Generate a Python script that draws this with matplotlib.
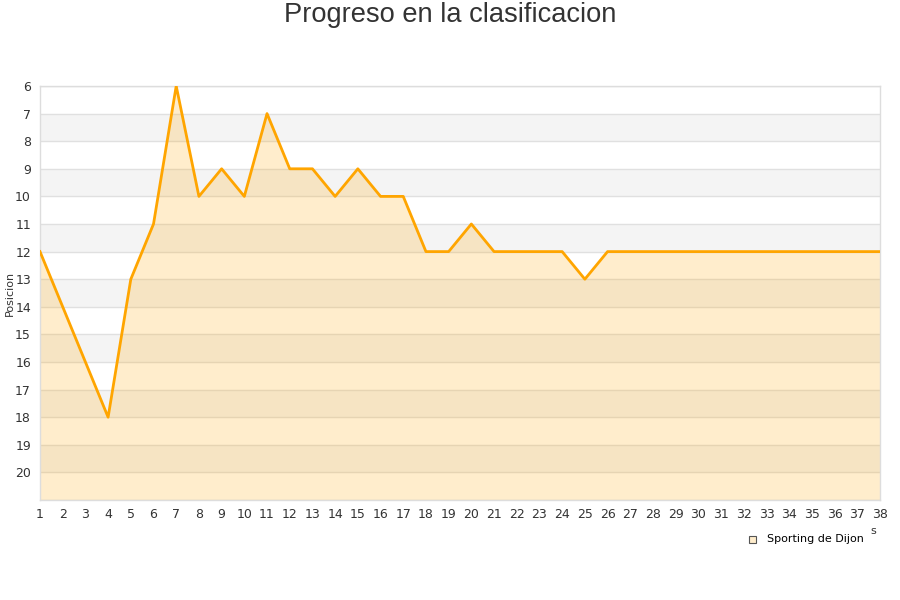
import matplotlib
matplotlib.use("Agg")
import matplotlib.pyplot as plt

jornadas = list(range(1, 39))
posiciones = [12, 14, 16, 18, 13, 11, 6, 10, 9, 10, 7, 9, 9, 10, 9, 10, 10, 12, 12, 11,
              12, 12, 12, 12, 13, 12, 12, 12, 12, 12, 12, 12, 12, 12, 12, 12, 12, 12]
equipo = "Sporting de Dijon"
y_ticks = list(range(6, 21))

fig = plt.figure(figsize=(9, 6), dpi=100)
ax = fig.add_axes([40/900, 1-500/600, 840/900, 414/600])

ax.set_xlim(1, 38)
ax.set_ylim(21, 6)

# alternating bands
for y0 in range(7, 21, 2):
    ax.axhspan(y0, y0 + 1, color="#f4f4f4", zorder=0, lw=0)
for y in range(6, 22):
    ax.axhline(y, color="#e0e0e0", lw=1, zorder=1)

ax.fill_between(jornadas, posiciones, 21, color="#ffa500", alpha=0.2, lw=0, zorder=2)
ax.plot(jornadas, posiciones, color="#ffa500", lw=2, zorder=3)

ax.set_xticks(jornadas)
ax.set_yticks(y_ticks)
ax.tick_params(axis="both", length=0, labelsize=9, colors="#333333")
ax.tick_params(axis="x", pad=6)
ax.tick_params(axis="y", pad=6.5)
for s in ax.spines.values():
    s.set_color("#dddddd")
    s.set_linewidth(1)

ax.set_ylabel("Posicion", fontsize=8, color="#333333")
ax.yaxis.set_label_coords(-25/840, 0.5)

fig.text(0.5, 1-15/600, "Progreso en la clasificacion", ha="center", va="center",
         fontsize=19.6, color="#333333", family="Liberation Sans")

fig.text(873/900, 1-531/600, "s", ha="center", va="center", fontsize=8, color="#333333")

# legend
fig.patches.append(plt.Rectangle((749/900, 1-543/600), 7/900, 7/600, transform=fig.transFigure,
                                 facecolor="#ffedcc", edgecolor="#555555", lw=0.8))
fig.text(767/900, 1-539/600, equipo, ha="left", va="center", fontsize=8, color="#000000")

fig.savefig("out.png", dpi=100)
